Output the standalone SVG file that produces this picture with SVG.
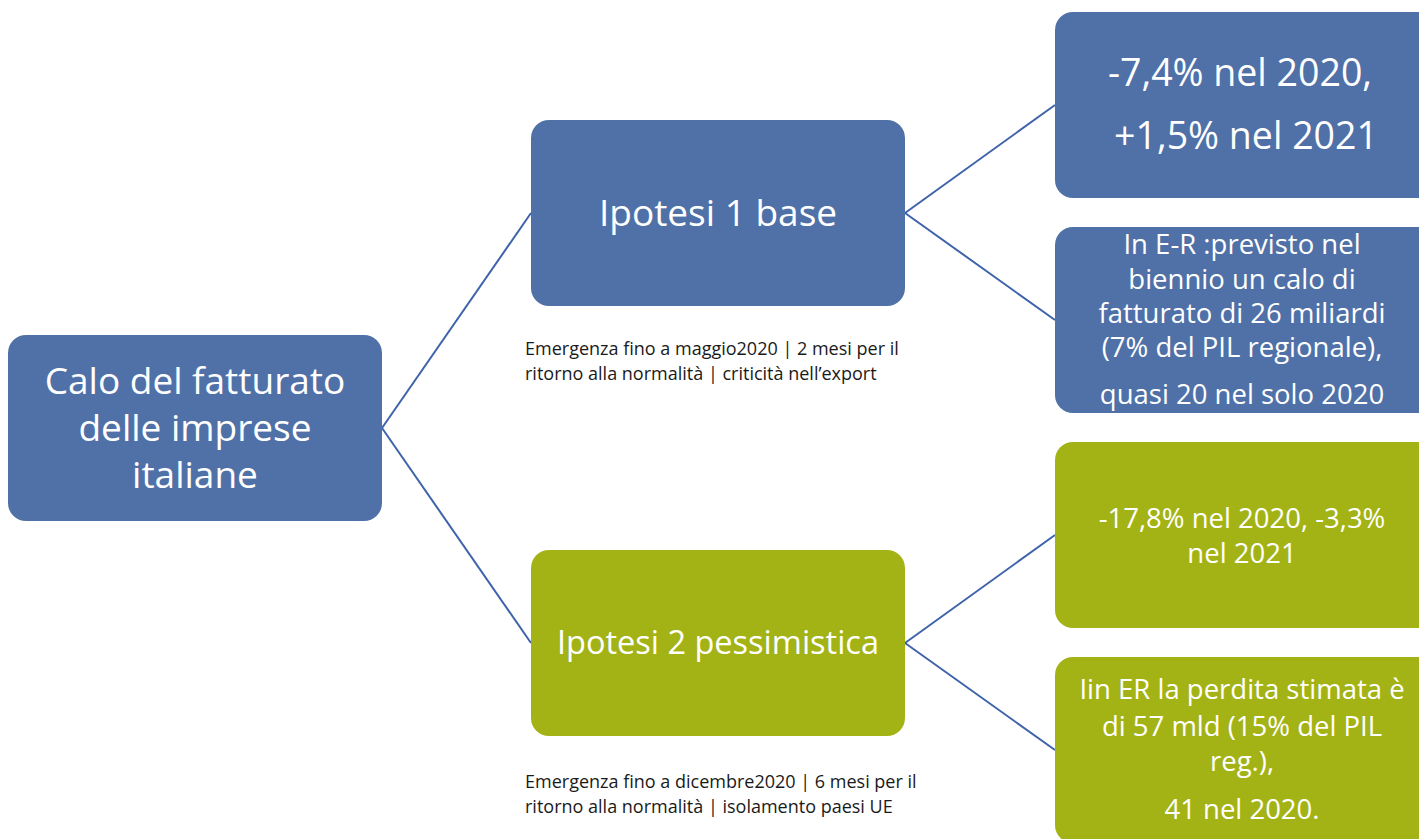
<svg xmlns="http://www.w3.org/2000/svg" width="1419" height="839" viewBox="0 0 1419 839">
<style>
.blue{fill:#4F71A8}
.green{fill:#A3B315}
.t{font-family:"Open Sans","Liberation Sans",sans-serif;fill:#FFFFFF;text-anchor:middle}
.c{font-family:"Open Sans","Liberation Sans",sans-serif;fill:#1A1A1A;font-size:18px}
.ln{stroke:#3F63AA;stroke-width:2;fill:none}
</style>
<rect width="1419" height="839" fill="#FFFFFF"/>
<g id="connectors">
<line class="ln" x1="382" y1="428" x2="531" y2="213"/>
<line class="ln" x1="382" y1="428" x2="531" y2="643"/>
<line class="ln" x1="905" y1="213" x2="1055" y2="105"/>
<line class="ln" x1="905" y1="213" x2="1055" y2="320"/>
<line class="ln" x1="905" y1="643" x2="1055" y2="535"/>
<line class="ln" x1="905" y1="643" x2="1055" y2="750"/>
</g>
<g id="root">
<rect class="blue" x="8" y="335" width="374" height="186" rx="18"/>
<text class="t" font-size="37" x="195"><tspan x="195" y="394">Calo del fatturato</tspan><tspan x="195" y="441">delle imprese</tspan><tspan x="195" y="488">italiane</tspan></text>
</g>
<g id="ipotesi1">
<rect class="blue" x="531" y="120" width="374" height="186" rx="18"/>
<text class="t" font-size="37" x="718" y="226">Ipotesi 1 base</text>
</g>
<g id="ipotesi2">
<rect class="green" x="531" y="550" width="374" height="186" rx="18"/>
<text class="t" font-size="32.5" x="718" y="654">Ipotesi 2 pessimistica</text>
</g>
<g id="caption1">
<text class="c"><tspan x="525" y="355">Emergenza fino a maggio2020 | 2 mesi per il</tspan><tspan x="525" y="380">ritorno alla normalità | criticità nell’export</tspan></text>
</g>
<g id="caption2">
<text class="c"><tspan x="525" y="788">Emergenza fino a dicembre2020 | 6 mesi per il</tspan><tspan x="525" y="813">ritorno alla normalità | isolamento paesi UE</tspan></text>
</g>
<g id="r1">
<rect class="blue" x="1055" y="12" width="380" height="186" rx="18"/>
<text class="t" font-size="37.5"><tspan x="1240" y="86">-7,4% nel 2020,</tspan><tspan x="1246" y="149">+1,5% nel 2021</tspan></text>
</g>
<g id="r2">
<rect class="blue" x="1055" y="227" width="380" height="186" rx="18"/>
<text class="t" font-size="27.5"><tspan x="1242" y="254">In E-R :previsto nel</tspan><tspan x="1242" y="289">biennio un calo di</tspan><tspan x="1242" y="323">fatturato di 26 miliardi</tspan><tspan x="1242" y="357">(7% del PIL regionale),</tspan><tspan x="1242" y="404">quasi 20 nel solo 2020</tspan></text>
</g>
<g id="r3">
<rect class="green" x="1055" y="442" width="380" height="186" rx="18"/>
<text class="t" font-size="27.5"><tspan x="1242" y="528">-17,8% nel 2020, -3,3%</tspan><tspan x="1242" y="563">nel 2021</tspan></text>
</g>
<g id="r4">
<rect class="green" x="1055" y="657" width="380" height="186" rx="18"/>
<text class="t" font-size="27.5"><tspan x="1242" y="699">Iin ER la perdita stimata è</tspan><tspan x="1242" y="736">di 57 mld (15% del PIL</tspan><tspan x="1242" y="771">reg.),</tspan><tspan x="1242" y="819">41 nel 2020.</tspan></text>
</g>
</svg>
